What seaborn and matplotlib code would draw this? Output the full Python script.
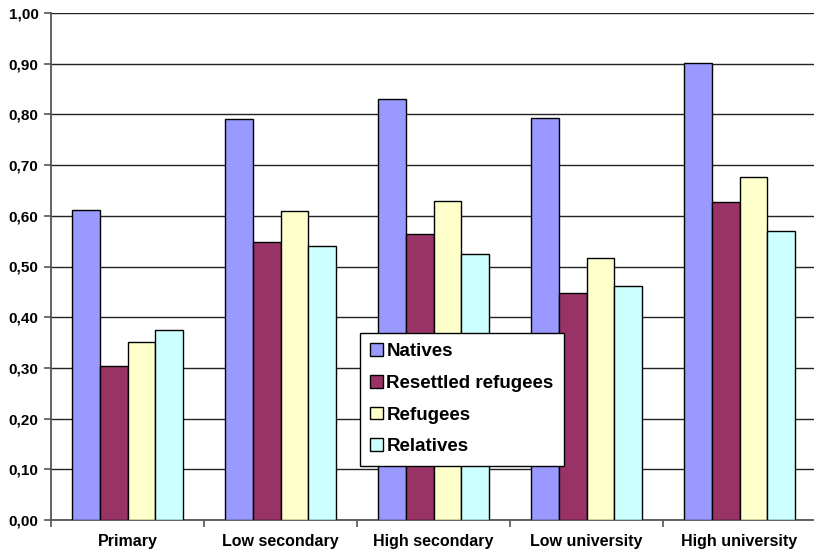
import matplotlib
matplotlib.use("Agg")
import matplotlib.pyplot as plt
import seaborn as sns
import pandas as pd
from matplotlib.ticker import FixedLocator, FuncFormatter

categories = ["Primary", "Low secondary", "High secondary", "Low university", "High university"]
groups = ["Natives", "Resettled refugees", "Refugees", "Relatives"]
natives = [0.611, 0.790, 0.831, 0.792, 0.902]
resettled = [0.304, 0.549, 0.564, 0.448, 0.627]
refugees = [0.352, 0.609, 0.630, 0.516, 0.677]
relatives = [0.375, 0.541, 0.525, 0.461, 0.570]
colors = ["#9999FF", "#993366", "#FFFFCC", "#CCFFFF"]

rows = []
for g, vals in zip(groups, [natives, resettled, refugees, relatives]):
    for c, v in zip(categories, vals):
        rows.append({"level": c, "group": g, "value": v})
df = pd.DataFrame(rows)

sns.set_style("white")
plt.rcParams["font.family"] = ["Liberation Sans", "DejaVu Sans"]
plt.rcParams["font.weight"] = "bold"
plt.rcParams["text.color"] = "black"
plt.rcParams["xtick.color"] = "black"
plt.rcParams["ytick.color"] = "black"

W, H = 814, 554
fig = plt.figure(figsize=(W / 100, H / 100), dpi=100)
ax = fig.add_axes([51 / W, 1 - 520 / H, 765 / W, 507 / H])

sns.barplot(data=df, x="level", y="value", hue="group", order=categories,
            hue_order=groups, palette=dict(zip(groups, colors)), width=0.725,
            edgecolor="black", linewidth=1.0, saturation=1, ax=ax, legend=False,
            zorder=3)

ax.set_xlim(-0.5, 4.5)
ax.set_ylim(0, 1.0)
ax.yaxis.set_major_locator(FixedLocator([i / 10 for i in range(11)]))
ax.yaxis.set_major_formatter(FuncFormatter(lambda v, p: f"{v:.2f}".replace(".", ",")))
ax.grid(axis="y", color="#222222", linewidth=1.0, zorder=0)
ax.set_axisbelow(True)

for side in ["top", "right"]:
    ax.spines[side].set_visible(False)
for side in ["left", "bottom"]:
    ax.spines[side].set_color("#555555")
    ax.spines[side].set_linewidth(1.3)

ax.tick_params(axis="y", which="major", direction="out", length=5, width=1.2,
               color="#555555", labelcolor="black", labelsize=11, pad=4, left=True)
ax.tick_params(axis="x", which="major", length=0, labelsize=11.5, pad=10,
               labelcolor="black")
ax.set_xticks([i - 0.5 for i in range(6)], minor=True)
ax.tick_params(axis="x", which="minor", direction="out", length=5, width=1.2,
               color="#555555", bottom=True)
for lbl in ax.get_xticklabels() + ax.get_yticklabels():
    lbl.set_fontweight("bold")
ax.set_xlabel("")
ax.set_ylabel("")

handles = [plt.Rectangle((0, 0), 1, 1, facecolor=c, edgecolor="black", linewidth=1.0)
           for c in colors]
leg = fig.legend(handles, groups, loc="upper left",
                 bbox_to_anchor=(360 / W, 1 - 333 / H), borderaxespad=0,
                 frameon=True, fancybox=False, framealpha=1,
                 prop={"size": 13.5, "weight": "bold"},
                 handlelength=0.65, handleheight=0.65, handletextpad=0.2,
                 labelspacing=0.78, borderpad=0.55)
leg.get_frame().set_edgecolor("black")
leg.get_frame().set_facecolor("white")
leg.get_frame().set_linewidth(1.0)
for t in leg.get_texts():
    t.set_color("black")
leg.set_zorder(10)

fig.savefig("out.png", dpi=100)
